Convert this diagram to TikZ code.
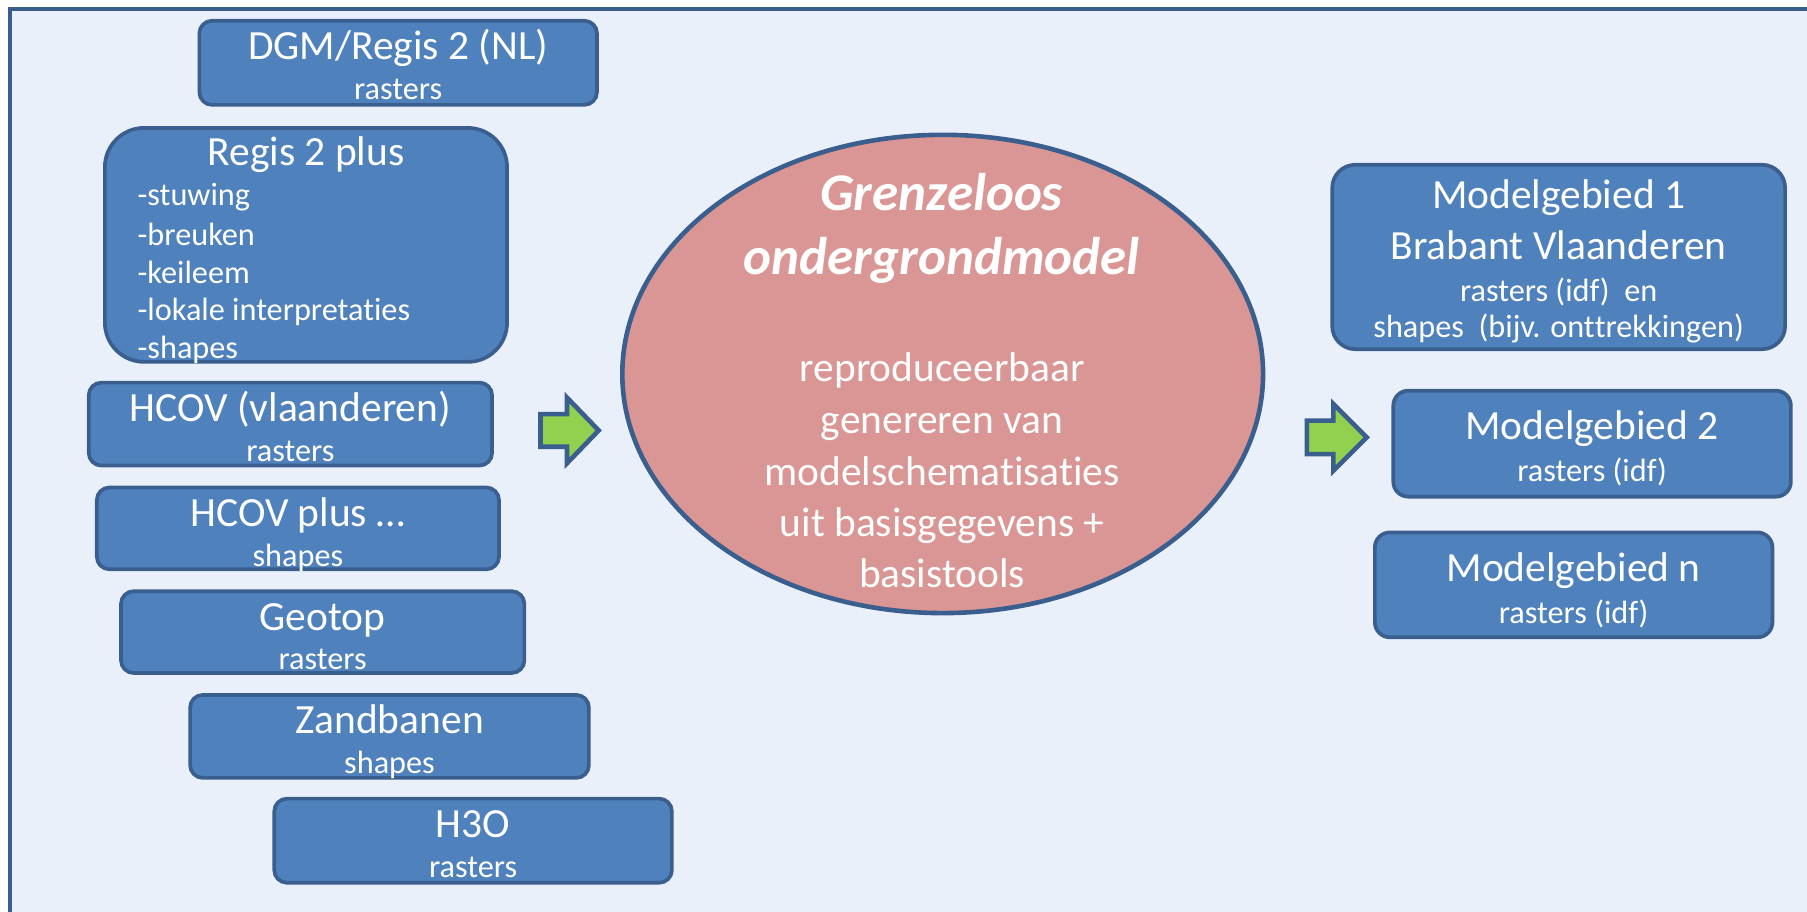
\documentclass[tikz,border=0pt]{standalone}
\usepackage{fontspec}
\setmainfont{Carlito}[Ligatures={NoCommon,NoContextual,NoRequired}, Contextuals=NoAlternate]
\usetikzlibrary{positioning}

\definecolor{achtergrond}{HTML}{EAF0F9}
\definecolor{rand}{HTML}{3A5F8E}
\definecolor{vak}{HTML}{4F81BD}
\definecolor{kern}{HTML}{D99694}
\definecolor{groen}{HTML}{92D050}

\begin{document}
\begin{tikzpicture}[x=0.5pt, y=-0.5pt,
    blok/.style={draw=rand, fill=vak, line width=1.6pt, rounded corners=5.5pt},
    kop/.style={text=white, anchor=base, inner sep=0pt, font=\fontsize{18}{20}\selectfont},
    sub/.style={text=white, anchor=base, inner sep=0pt, font=\fontsize{14}{16}\selectfont},
    pijl/.style={draw=rand, fill=groen, line width=2pt, line join=miter}]

    \useasboundingbox (0,0) rectangle (1568,791);

    % Background panel with its frame (open to the right and bottom)
    \fill[achtergrond] (9,8) rectangle (1600,820);
    \draw[rand, line width=1.8pt] (1600,8) -- (9,8) -- (9,820);

    % Source data on the left
    \draw[blok] (173,18) rectangle (518,91);
    \node[kop] (dgm) at (345.5,51.7) {DGM/Regis 2 (NL)};
    \node[sub] (dgmsub) at (345.5,86.2) {rasters};

    \draw[blok, rounded corners=17pt] (91,111) rectangle (440,314);
    \node[kop] (regis) at (265.5,143.3) {Regis 2 plus};
    \node[sub, anchor=base west] (stuwing) at (119,178.5) {-stuwing};
    \node[sub, anchor=base west] (breuken) at (119,212.6) {-breuken};
    \node[sub, anchor=base west] (keileem) at (119,245.8) {-keileem};
    \node[sub, anchor=base west] (lokaal) at (119,278.5) {-lokale interpretat\kern0pt ies};
    \node[sub, anchor=base west] (regisshapes) at (119,311.3) {-shapes};

    \draw[blok] (77,332) rectangle (427,404);
    \node[kop] (hcov) at (252,365.7) {HCOV (vlaanderen)};
    \node[sub] (hcovsub) at (252,400.2) {rasters};

    \draw[blok] (84,423) rectangle (433,494);
    \node[kop] (hcovplus) at (258.5,456.7) {HCOV plus …};
    \node[sub] (hcovplussub) at (258.5,491.2) {shapes};

    \draw[blok] (105,513) rectangle (455,584);
    \node[kop] (geotop) at (280,546.7) {Geotop};
    \node[sub] (geotopsub) at (280,581.2) {rasters};

    \draw[blok] (165,603) rectangle (511,675);
    \node[kop] (zandbanen) at (338,636.7) {Zandbanen};
    \node[sub] (zandbanensub) at (338,671.2) {shapes};

    \draw[blok] (238,693) rectangle (583,766);
    \node[kop] (hdrieo) at (410.5,726.7) {H3O};
    \node[sub] (hdrieosub) at (410.5,761.2) {rasters};

    % Arrow into the model
    \draw[pijl] (469,359.3) -- (492,359.3) -- (492,345) -- (519.5,373.5)
        -- (492,402) -- (492,387.7) -- (469,387.7) -- cycle;

    % The central model
    \draw[draw=rand, fill=kern, line width=2pt] (818,324.5) ellipse [x radius=278, y radius=207.5];
    \node[kop, font=\bfseries\itshape\fontsize{23}{28}\selectfont] (grenzeloos) at (817,183) {Grenzeloos};
    \node[kop, font=\bfseries\itshape\fontsize{23}{28}\selectfont] (ondergrond) at (817,238.5) {ondergrondmodel};
    \node[kop] (reproduceer) at (817.5,331) {reproduceerbaar};
    \node[kop] (genereren) at (817.5,376) {genereren van};
    \node[kop] (schemat) at (817.5,421) {modelschemat\kern0pt isat\kern0pt ies};
    \node[kop] (basisgeg) at (817.5,465.5) {uit basisgegevens +};
    \node[kop] (basistools) at (817.5,510) {basistools};

    % Arrow out of the model
    \draw[pijl] (1134,365) -- (1157,365) -- (1157,350.6) -- (1186,379.5)
        -- (1157,408.4) -- (1157,394) -- (1134,394) -- cycle;

    % Model areas on the right
    \draw[blok, rounded corners=10pt] (1156,143) rectangle (1549,303);
    \node[kop] (gebied1) at (1352.5,181) {Modelgebied 1};
    \node[kop] (brabant) at (1352.5,225) {Brabant Vlaanderen};
    \node[sub] (gebied1ras) at (1352.5,261.6) {rasters (idf)\ \ en};
    \node[sub] (gebied1shp) at (1352.5,292.7) {shapes\ \ (bijv. ont\kern0pt t\kern0pt rekkingen)};

    \draw[blok, rounded corners=6.5pt] (1209,339) rectangle (1554,431);
    \node[kop] (gebied2) at (1381.5,381.8) {Modelgebied 2};
    \node[sub] (gebied2sub) at (1381.5,417.8) {rasters (idf)};

    \draw[blok, rounded corners=6.5pt] (1193,462) rectangle (1538,553);
    \node[kop] (gebiedn) at (1365.5,504.8) {Modelgebied n};
    \node[sub] (gebiednsub) at (1365.5,541.4) {rasters (idf)};

\end{tikzpicture}
\end{document}
